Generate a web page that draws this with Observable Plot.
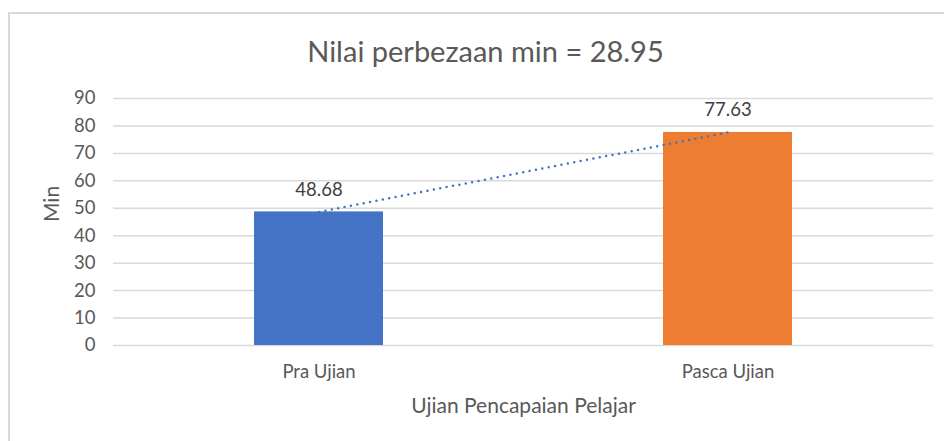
<!DOCTYPE html>
<html>
<head>
<meta charset="utf-8">
<script src="https://cdn.jsdelivr.net/npm/d3@7"></script>
<script src="https://cdn.jsdelivr.net/npm/@observablehq/plot@0.6"></script>
<style>
  html, body { margin: 0; padding: 0; background: #fff; }
  #wrap { position: relative; width: 944px; height: 441px; overflow: hidden; }
  #border { position: absolute; left: 8px; top: 12px; width: 960px; height: 460px;
            border-top: 2px solid #d9d9d9; border-left: 2px solid #d9d9d9; box-sizing: border-box; }
  #chart { position: absolute; left: 0; top: 0; }
</style>
</head>
<body>
<div id="wrap"><div id="border"></div><div id="chart"></div></div>
<script>
const categories = ["Pra Ujian", "Pasca Ujian"];
const values = [48.68, 77.63];
const barColors = ["#4472C4", "#ED7D31"];
const yTicks = [0, 10, 20, 30, 40, 50, 60, 70, 80, 90];
const titleText = "Nilai perbezaan min = 28.95";
const yLabel = "Min";
const xLabel = "Ujian Pencapaian Pelajar";

const data = categories.map((c, i) => ({cat: c, value: values[i], color: barColors[i], label: values[i].toFixed(2)}));

const font = "Lato, 'Open Sans', sans-serif";

const chart = Plot.plot({
  width: 944,
  height: 441,
  marginTop: 98,
  marginBottom: 96,
  marginLeft: 113,
  marginRight: 11,
  style: {fontFamily: font, background: "transparent", overflow: "visible"},
  x: {domain: categories, paddingInner: 0.685, paddingOuter: 0.3427, axis: null},
  y: {domain: [0, 90], axis: null},
  marks: [
    Plot.gridY(yTicks, {stroke: "#d9d9d9", strokeOpacity: 1, strokeWidth: 1.5}),
    Plot.barY(data, {x: "cat", y: "value", fill: "color"}),
    Plot.line(data, {x: "cat", y: "value", stroke: "#4472C4", strokeWidth: 2.5,
      strokeDasharray: "0,6.5", strokeLinecap: "round"}),
    Plot.text(data, {x: "cat", y: "value", text: "label", dy: -22, fontSize: 18.5, fill: "#404040"}),
    Plot.axisY(yTicks, {tickSize: 0, tickPadding: 18, fontSize: 18.5, fill: "#595959", label: null, tickFormat: d => String(d)}),
    Plot.axisX({tickSize: 0, tickPadding: 19, fontSize: 18.5, fill: "#595959", label: null}),
    Plot.text([titleText], {frameAnchor: "top", dx: -38, dy: -46, fontSize: 29, fill: "#595959", lineAnchor: "middle"}),
    Plot.text([yLabel], {frameAnchor: "left", dx: -61, rotate: -90, fontSize: 21, fill: "#595959"}),
    Plot.text([xLabel], {frameAnchor: "bottom", dy: 67, fontSize: 21, fill: "#595959"})
  ]
});
document.getElementById("chart").append(chart);
</script>
</body>
</html>
